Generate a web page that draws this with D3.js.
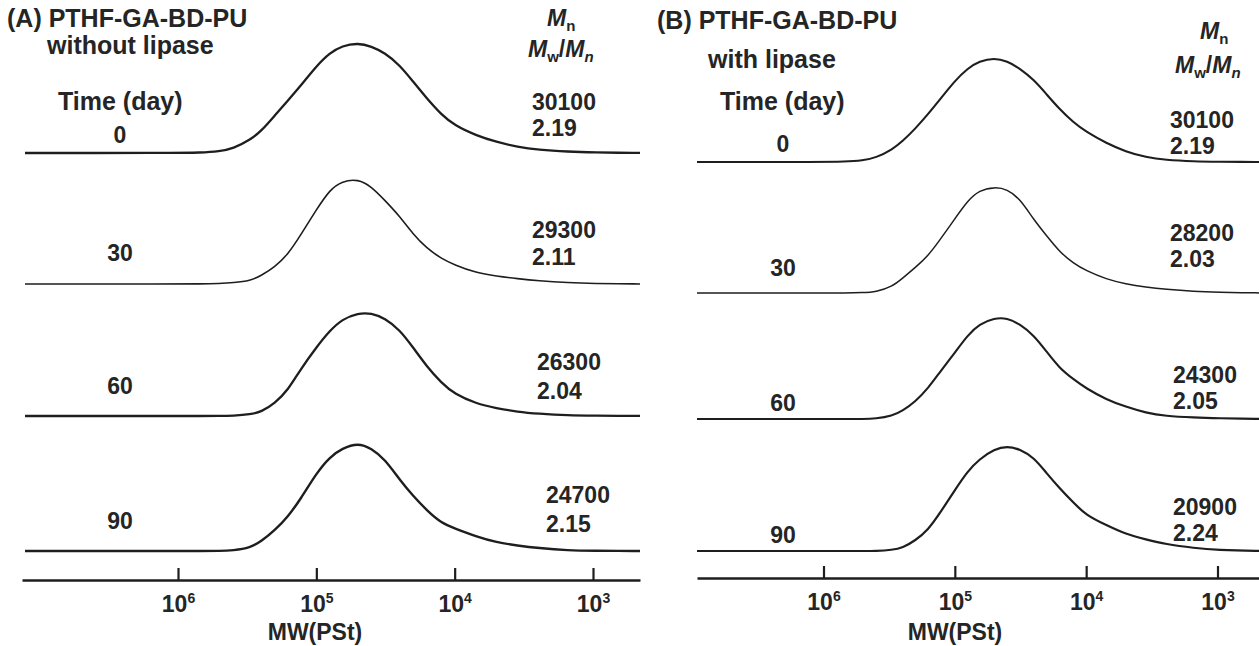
<!DOCTYPE html>
<html>
<head>
<meta charset="utf-8">
<script src="https://cdn.jsdelivr.net/npm/d3@7"></script>
<style>
  body { margin: 0; background: #fff; }
  svg text { font-family: "Liberation Sans", Arial, sans-serif; font-weight: bold; fill: #252525; font-size: 23px; }
  svg text.head { font-size: 25px; }
</style>
</head>
<body>
<div id="chart"></div>
<script>
// molecular weight grid (PSt equivalent), high -> low, shared by all traces
const mwGrid = [2e7, 1e6, 7e5, 5e5, 4e5, 3e5, 2.5e5, 2e5, 1.6e5, 1.3e5, 1e5, 8e4, 6.5e4, 5e4, 4e4,
                3.2e4, 2.5e4, 2e4, 1.6e4, 1.25e4, 1e4, 7e3, 5e3, 3.5e3, 2.5e3, 1.5e3, 1e3, 500, 300];

const days = ["0", "30", "60", "90"];

// relative detector response (peak = 1)
const traceA = [
  [0, 0, 0.003, 0.015, 0.04, 0.12, 0.2, 0.34, 0.48, 0.61, 0.79, 0.91, 0.975, 1.0, 0.97, 0.91, 0.8, 0.65, 0.5, 0.35, 0.25, 0.16, 0.1, 0.055, 0.03, 0.012, 0.005, 0, 0],
  [0, 0, 0, 0.005, 0.012, 0.03, 0.08, 0.16, 0.28, 0.46, 0.7, 0.89, 0.97, 0.99, 0.92, 0.79, 0.64, 0.47, 0.34, 0.24, 0.18, 0.105, 0.075, 0.05, 0.03, 0.012, 0.005, 0, 0],
  [0, 0, 0, 0, 0.003, 0.015, 0.04, 0.12, 0.25, 0.45, 0.66, 0.82, 0.93, 0.99, 0.99, 0.94, 0.83, 0.66, 0.48, 0.32, 0.21, 0.12, 0.075, 0.04, 0.022, 0.005, 0.003, 0, 0],
  [0, 0, 0, 0, 0.005, 0.03, 0.09, 0.19, 0.32, 0.48, 0.72, 0.87, 0.95, 1.0, 0.95, 0.85, 0.66, 0.51, 0.38, 0.26, 0.21, 0.135, 0.08, 0.05, 0.027, 0.005, 0.002, 0, 0]
];
const traceB = [
  [0, 0, 0.003, 0.015, 0.04, 0.12, 0.2, 0.32, 0.46, 0.6, 0.78, 0.9, 0.97, 1.0, 0.97, 0.9, 0.79, 0.65, 0.51, 0.38, 0.29, 0.18, 0.1, 0.045, 0.02, 0.006, 0.003, 0, 0],
  [0, 0, 0, 0.003, 0.01, 0.06, 0.14, 0.24, 0.35, 0.5, 0.7, 0.87, 0.97, 1.0, 0.98, 0.89, 0.69, 0.54, 0.39, 0.28, 0.21, 0.13, 0.085, 0.055, 0.035, 0.015, 0.008, 0, 0],
  [0, 0, 0, 0, 0.003, 0.03, 0.08, 0.17, 0.3, 0.46, 0.65, 0.82, 0.93, 0.99, 0.99, 0.93, 0.82, 0.66, 0.5, 0.39, 0.3, 0.19, 0.12, 0.06, 0.03, 0.015, 0.008, 0, 0],
  [0, 0, 0, 0, 0, 0.01, 0.03, 0.1, 0.2, 0.36, 0.58, 0.76, 0.875, 0.97, 1.0, 0.97, 0.89, 0.74, 0.6, 0.46, 0.34, 0.245, 0.16, 0.11, 0.065, 0.028, 0.01, 0, 0]
];

const mnA = ["30100", "29300", "26300", "24700"];
const pdiA = ["2.19", "2.11", "2.04", "2.15"];
const mnB = ["30100", "28200", "24300", "20900"];
const pdiB = ["2.19", "2.03", "2.05", "2.24"];

const tickValues = [1e6, 1e5, 1e4, 1e3];

// layout
const width = 1259, height = 646;
const svg = d3.select("#chart").append("svg")
  .attr("width", width)
  .attr("height", height);

const panels = [
  {
    id: "A", title: "(A) PTHF-GA-BD-PU", sub: "without lipase",
    traces: traceA, mn: mnA, pdi: pdiA,
    tickPx: [178, 593], range: [22, 640], clipX: [25, 640], axisY: 580,
    rowBase: [153, 284, 416, 551], rowH: [110, 106, 104, 108], strokeW: [2.3, 1.6, 2.3, 2.4],
    titlePos: [7, 27], subPos: [47, 54], timePos: [58, 110],
    dayX: 120, dayY: [143, 261, 394, 529],
    mnHead: [547, 26], pdiHead: [528, 57],
    valX: [532, 532, 537, 546], mnY: [110, 238, 370, 503], pdiY: [136, 265, 399, 532],
    xLabel: 315
  },
  {
    id: "B", title: "(B) PTHF-GA-BD-PU", sub: "with lipase",
    traces: traceB, mn: mnB, pdi: pdiB,
    tickPx: [823.5, 1217.5], range: [697, 1259], clipX: [697, 1259], axisY: 578,
    rowBase: [162, 293, 419, 551], rowH: [104, 106, 102, 105], strokeW: [2.1, 1.5, 2.1, 2.2],
    titlePos: [657, 29], subPos: [708, 68], timePos: [720, 110],
    dayX: 783, dayY: [152, 276, 411, 543],
    mnHead: [1200, 39], pdiHead: [1175, 73],
    valX: [1170, 1170, 1173, 1173], mnY: [128, 241, 383, 515], pdiY: [154, 267, 409, 541],
    xLabel: 955
  }
];

panels.forEach(function(p) {
  var base = d3.scaleLog().domain([1e6, 1e3]).range(p.tickPx);
  var x = base.copy().domain([base.invert(p.range[0]), base.invert(p.range[1])]).range(p.range);

  svg.append("clipPath").attr("id", "clip" + p.id)
    .append("rect")
    .attr("x", p.clipX[0]).attr("y", 0)
    .attr("width", p.clipX[1] - p.clipX[0]).attr("height", height);

  // traces
  p.traces.forEach(function(tr, i) {
    var y = d3.scaleLinear().domain([0, 1]).range([p.rowBase[i], p.rowBase[i] - p.rowH[i]]);
    var line = d3.line()
      .x(function(d, j) { return x(mwGrid[j]); })
      .y(function(d) { return y(d); })
      .curve(d3.curveBasis);
    svg.append("path")
      .datum(tr)
      .attr("clip-path", "url(#clip" + p.id + ")")
      .attr("d", line)
      .attr("fill", "none")
      .attr("stroke", "#1e1e1e")
      .attr("stroke-width", p.strokeW[i]);
  });

  // x axis, ticks pointing up
  var g = svg.append("g")
    .attr("transform", "translate(0," + p.axisY + ")")
    .call(d3.axisBottom(x).tickValues(tickValues).tickSizeInner(-12).tickSizeOuter(0).tickFormat(""));
  g.attr("font-size", null).attr("font-family", null);
  g.select(".domain").attr("stroke", "#1e1e1e").attr("stroke-width", 2.6);
  g.selectAll(".tick line").attr("stroke", "#1e1e1e").attr("stroke-width", 2.2);
  g.selectAll(".tick text").each(function(d) {
    var t = d3.select(this).attr("y", 32).attr("dy", null).text(null);
    t.append("tspan").text("10");
    t.append("tspan").attr("dy", -9).style("font-size", "14px").text(Math.round(Math.log10(d)));
  });

  svg.append("text").attr("x", p.xLabel).attr("y", 640)
    .attr("text-anchor", "middle").text("MW(PSt)");

  // headers
  svg.append("text").attr("class", "head").attr("x", p.titlePos[0]).attr("y", p.titlePos[1]).text(p.title);
  svg.append("text").attr("class", "head").attr("x", p.subPos[0]).attr("y", p.subPos[1]).text(p.sub);
  svg.append("text").attr("class", "head").attr("x", p.timePos[0]).attr("y", p.timePos[1]).text("Time (day)");

  var mh = svg.append("text").attr("x", p.mnHead[0]).attr("y", p.mnHead[1]);
  mh.append("tspan").style("font-style", "italic").text("M");
  mh.append("tspan").attr("dy", 5).style("font-size", "15px").text("n");

  var ph = svg.append("text").attr("x", p.pdiHead[0]).attr("y", p.pdiHead[1]);
  ph.append("tspan").style("font-style", "italic").text("M");
  ph.append("tspan").attr("dy", 5).style("font-size", "15px").text("w");
  ph.append("tspan").attr("dy", -5).text("/");
  ph.append("tspan").style("font-style", "italic").text("M");
  ph.append("tspan").attr("dy", 5).style("font-size", "15px").style("font-style", "italic").text("n");

  // per-row labels
  days.forEach(function(dLabel, i) {
    svg.append("text").attr("x", p.dayX).attr("y", p.dayY[i])
      .attr("text-anchor", "middle").text(dLabel);
    svg.append("text").attr("x", p.valX[i]).attr("y", p.mnY[i]).text(p.mn[i]);
    svg.append("text").attr("x", p.valX[i]).attr("y", p.pdiY[i]).text(p.pdi[i]);
  });
});
</script>
</body>
</html>
